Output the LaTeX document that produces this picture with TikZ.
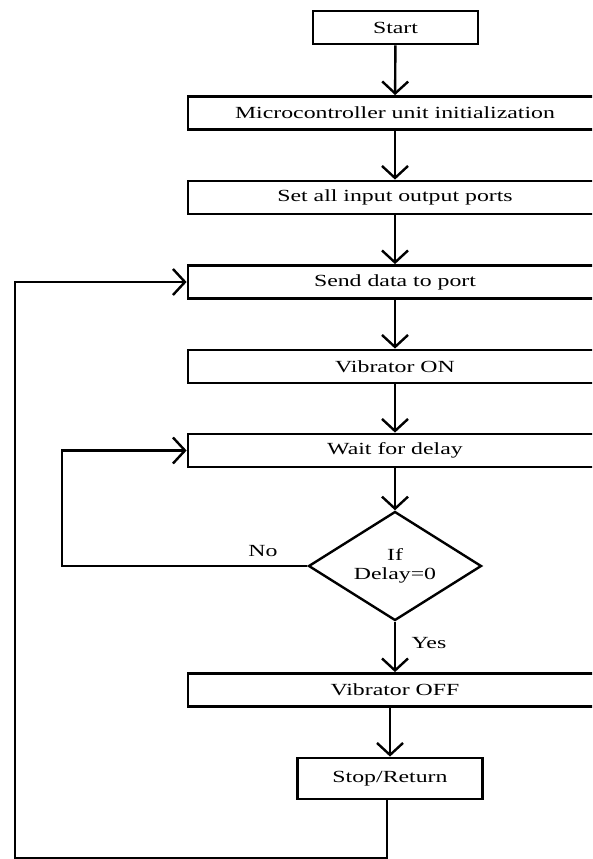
\documentclass[tikz,border=0pt]{standalone}
\usepackage{fontspec}
\setmainfont[FakeStretch=1.4]{Liberation Serif}
\usetikzlibrary{shapes.geometric, arrows.meta}

\begin{document}
\begin{tikzpicture}[x=1pt, y=-1pt,
    box/.style={draw, rectangle, line width=2.8pt, minimum width=414pt, minimum height=33pt, inner sep=0pt, font=\fontsize{17}{20}\selectfont},
    dia/.style={draw, diamond, line width=2.4pt, aspect=1.59, minimum width=173pt, minimum height=109pt, inner sep=0pt, align=center, font=\fontsize{17}{19}\selectfont},
    lbl/.style={inner sep=0pt, font=\fontsize{17}{20}\selectfont},
    arr/.style={-{Straight Barb[length=12pt, width=26pt]}, line width=2.4pt}]
    \useasboundingbox (0,0) rectangle (592,859);
    \clip (0,0) rectangle (592,859);

    % 処理ボックス
    \node[box, minimum width=165pt] (start) at (395.5, 27.5) {Start};
    \node[box] (init) at (395, 113) {Microcontroller unit initialization};
    \node[box] (ports) at (395, 197.5) {Set all input output ports};
    \node[box] (send) at (395, 282) {Send data to port};
    \node[box] (von) at (395, 366.5) {Vibrator ON};
    \node[box] (wait) at (395, 450.5) {Wait for delay};
    \node[dia] (check) at (395, 566) {If\\Delay=0};
    \node[box] (voff) at (395, 690) {Vibrator OFF};
    \node[box, minimum width=185pt, minimum height=41pt] (stop) at (390, 778.5) {Stop/Return};

    % 戻り線の折れ点
    \coordinate (c1) at (387, 858);
    \coordinate (c2) at (15, 858);
    \coordinate (c3) at (62, 566);

    % 分岐ラベル
    \node[lbl] (no) at (263, 551) {No};
    \node[lbl] (yes) at (429, 643) {Yes};

    % 矢印を描画
    \draw[arr] (start) -- (init);
    \draw[arr] (init) -- (ports);
    \draw[arr] (ports) -- (send);
    \draw[arr] (send) -- (von);
    \draw[arr] (von) -- (wait);
    \draw[arr] (wait) -- (check);
    \draw[arr] (check) -- (voff);
    \draw[arr] (voff.south -| stop.north) -- (stop.north);
    \draw[arr] (check.west) -- (c3) |- (wait.west);
    \draw[arr] (stop.south -| c1) -- (c1) -- (c2) |- (send.west);
\end{tikzpicture}
\end{document}
